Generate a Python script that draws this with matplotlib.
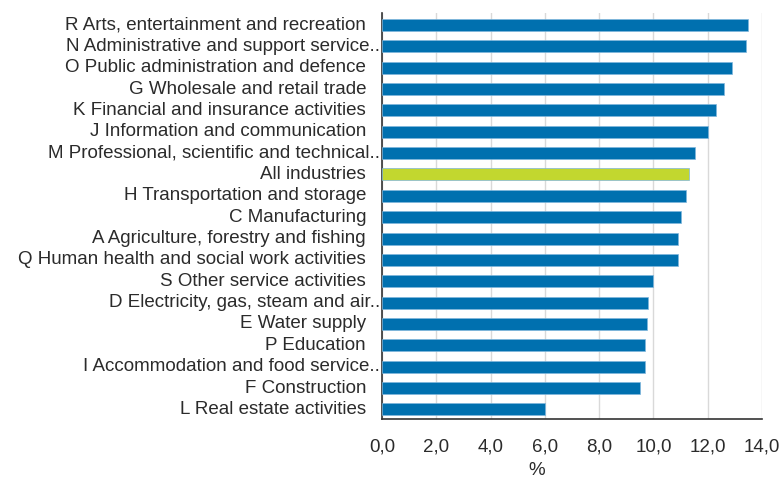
import matplotlib.pyplot as plt
from matplotlib.ticker import FuncFormatter

plt.rcParams['font.family'] = ['Liberation Sans', 'DejaVu Sans']

labels = [
    'R Arts, entertainment and recreation',
    'N Administrative and support service..',
    'O Public administration and defence',
    'G Wholesale and retail trade',
    'K Financial and insurance activities',
    'J Information and communication',
    'M Professional, scientific and technical..',
    'All industries',
    'H Transportation and storage',
    'C Manufacturing',
    'A Agriculture, forestry and fishing',
    'Q Human health and social work activities',
    'S Other service activities',
    'D Electricity, gas, steam and air..',
    'E Water supply',
    'P Education',
    'I Accommodation and food service..',
    'F Construction',
    'L Real estate activities',
]
values = [13.5, 13.4, 12.9, 12.6, 12.3, 12.0, 11.55, 11.3, 11.2, 11.0,
          10.9, 10.9, 10.0, 9.8, 9.75, 9.7, 9.7, 9.5, 6.0]
xticks = [0, 2, 4, 6, 8, 10, 12, 14]

blue = '#0070af'
green = '#c2d72f'
text_col = '#2b2b2b'
fs = 13.5

fig = plt.figure(figsize=(7.82, 4.8), dpi=100)
ax = fig.add_axes([0.4885, 0.1271, 0.4859, 0.8458])

colors = [green if l == 'All industries' else blue for l in labels]
ypos = range(len(labels))
ax.barh(ypos, values, height=0.56, color=colors, edgecolor='#7fb6dc',
        linewidth=0.5, zorder=3)

ax.set_xlim(0, 14)
ax.set_ylim(len(labels) - 0.55, -0.56)
ax.set_xticks(xticks)
ax.xaxis.set_major_formatter(FuncFormatter(lambda v, p: f'{v:.1f}'.replace('.', ',')))
ax.tick_params(axis='x', length=0, pad=14, labelsize=fs, labelcolor=text_col)
ax.set_yticks([])
ax.grid(axis='x', color='#d9d9d9', linewidth=1, zorder=0)

for s in ['top', 'right']:
    ax.spines[s].set_visible(False)
for s in ['left', 'bottom']:
    ax.spines[s].set_color('#333333')
    ax.spines[s].set_linewidth(1.2)

# category labels, truncated ones run up to the spine
trans = ax.get_yaxis_transform()
for i, lab in enumerate(labels):
    off = -2 if lab.endswith('..') else -16
    ax.annotate(lab, xy=(0, i), xycoords=trans, xytext=(off * 0.72, 0),
                textcoords='offset points', ha='right', va='center',
                fontsize=fs, color=text_col)

ax.set_xlabel('%', fontsize=fs, color=text_col)
ax.xaxis.set_label_coords(0.408, -0.105)

fig.savefig('out.png', dpi=100)
